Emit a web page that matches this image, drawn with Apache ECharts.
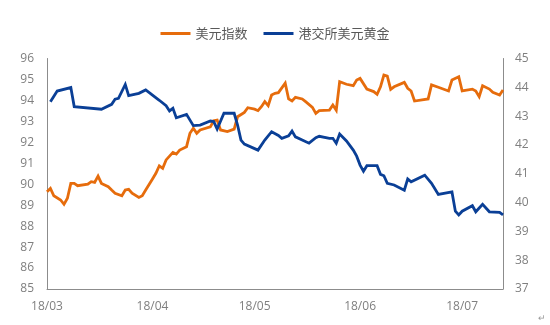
<!DOCTYPE html>
<html>
<head>
<meta charset="utf-8">
<script src="https://cdn.jsdelivr.net/npm/echarts@6/dist/echarts.min.js"></script>
<style>
html,body{margin:0;padding:0;background:#fff;}
#chart{width:550px;height:325px;}
</style>
</head>
<body>
<div id="chart"></div>
<script>
// Series names
const seriesNames = ['美元指数', '港交所美元黄金'];

// 美元指数 (left axis) — dates (2018, MM-DD) and values
const usdDates = [
  '03-01','03-02','03-03','03-05','03-06','03-07','03-08','03-09','03-10','03-13','03-14','03-15','03-16','03-17','03-19','03-20','03-21','03-23','03-24','03-25','03-26','03-28','03-29','03-30',
  '04-01','04-02','04-03','04-04','04-05','04-07','04-08','04-09','04-11','04-12','04-13','04-14','04-15','04-18','04-19','04-20','04-21','04-23','04-25','04-26','04-28','04-29',
  '05-01','05-02','05-03','05-04','05-05','05-06','05-07','05-08','05-10','05-11','05-12','05-13','05-15','05-16','05-18','05-19','05-20','05-23','05-24','05-25','05-26','05-28','05-30','05-31',
  '06-01','06-03','06-05','06-06','06-07','06-08','06-09','06-10','06-11','06-14','06-15','06-16','06-17','06-21','06-22','06-24','06-27','06-28','06-30',
  '07-01','07-04','07-05','07-06','07-07','07-09','07-10','07-12','07-13'
];
const usdValues = [
  89.64, 89.80, 89.45, 89.25, 89.04, 89.33, 90.04, 90.04, 89.93, 90.00, 90.12, 90.09, 90.39, 90.04, 89.88, 89.72, 89.57, 89.45, 89.72, 89.76, 89.57, 89.37, 89.45, 89.72,
  90.25, 90.52, 90.88, 90.76, 91.16, 91.52, 91.44, 91.63, 91.79, 92.43, 92.67, 92.43, 92.59, 92.74, 93.03, 93.06, 92.59, 92.51, 92.63, 93.22, 93.43, 93.65,
  93.58, 93.51, 93.70, 93.94, 93.75, 94.26, 94.34, 94.37, 94.82, 94.07, 93.97, 94.15, 94.07, 93.94, 93.67, 93.38, 93.51, 93.54, 93.78, 93.53, 94.89, 94.77, 94.70, 94.97,
  95.05, 94.54, 94.42, 94.29, 94.65, 95.21, 95.16, 94.53, 94.65, 94.86, 94.58, 94.45, 93.97, 94.07, 94.74, 94.63, 94.45, 94.97, 95.13,
  94.45, 94.54, 94.45, 94.18, 94.70, 94.54, 94.39, 94.26, 94.50
];

// 港交所美元黄金 (right axis) — dates and values
const goldDates = [
  '03-02','03-04','03-08','03-09','03-17','03-20','03-21','03-22','03-24','03-25','03-28','03-30',
  '04-01','04-03','04-05','04-06','04-07','04-08','04-11','04-13','04-15','04-18','04-19','04-20','04-22','04-25','04-26','04-27','04-28',
  '05-02','05-04','05-06','05-08','05-09','05-11','05-12','05-13','05-17','05-19','05-20','05-23','05-24','05-25','05-26','05-28','05-30','05-31',
  '06-01','06-02','06-03','06-06','06-07','06-08','06-09','06-11','06-14','06-15','06-16','06-20','06-22','06-24','06-28','06-29','06-30',
  '07-01','07-04','07-05','07-07','07-09','07-12','07-13'
];
const goldValues = [
  43.50, 43.87, 43.99, 43.33, 43.24, 43.41, 43.59, 43.62, 44.10, 43.71, 43.79, 43.91,
  43.73, 43.55, 43.36, 43.18, 43.27, 42.94, 43.06, 42.67, 42.69, 42.83, 42.81, 42.55, 43.10, 43.10, 42.69, 42.17, 42.03,
  41.82, 42.17, 42.46, 42.33, 42.23, 42.32, 42.48, 42.28, 42.06, 42.25, 42.30, 42.23, 42.23, 42.06, 42.38, 42.14, 41.82, 41.61,
  41.30, 41.09, 41.28, 41.28, 40.98, 40.93, 40.67, 40.61, 40.43, 40.82, 40.72, 40.95, 40.67, 40.28, 40.37, 39.70, 39.57,
  39.70, 39.89, 39.68, 39.94, 39.68, 39.66, 39.57
];

// Axis ranges and x-axis month labels
const leftAxisRange = [85, 96];
const rightAxisRange = [37, 45];
const startDate = '2018-03-01';
const endDate = '2018-07-13';
const monthLabels = {'03-01': '18/03', '04-01': '18/04', '05-01': '18/05', '06-01': '18/06', '07-01': '18/07'};

// Build calendar-day categories
function pad(n){ return (n < 10 ? '0' : '') + n; }
const categories = [];
{
  const d = new Date(startDate + 'T00:00:00Z');
  const e = new Date(endDate + 'T00:00:00Z');
  while (d <= e) {
    categories.push(pad(d.getUTCMonth() + 1) + '-' + pad(d.getUTCDate()));
    d.setUTCDate(d.getUTCDate() + 1);
  }
}
function toSeries(dates, values) {
  const arr = categories.map(() => null);
  dates.forEach((dt, i) => {
    const idx = categories.indexOf(dt);
    if (idx >= 0) arr[idx] = values[i];
  });
  return arr;
}

const axisColor = '#8c8c8c';
const labelColor = '#7f7f7f';
const fontFamily = '"Open Sans", "Noto Sans CJK SC", sans-serif';

const chart = echarts.init(document.getElementById('chart'), null, {renderer: 'canvas'});
chart.setOption({
  animation: false,
  backgroundColor: '#ffffff',
  textStyle: {fontFamily: fontFamily},
  legend: {
    top: 22,
    left: 'center',
    itemWidth: 30,
    itemHeight: 3,
    itemGap: 16,
    icon: 'rect',
    textStyle: {fontSize: 13, color: '#595959', fontFamily: '"Noto Sans CJK SC", sans-serif'},
    data: seriesNames
  },
  grid: {left: 47, right: 47, top: 58.5, bottom: 36, containLabel: false},
  xAxis: {
    type: 'category',
    boundaryGap: false,
    data: categories,
    axisLine: {show: true, lineStyle: {color: axisColor, width: 1}},
    axisTick: {show: false},
    splitLine: {show: false},
    axisLabel: {
      interval: 0,
      formatter: (val) => monthLabels[val] || '',
      color: labelColor,
      fontSize: 12,
      margin: 12,
      hideOverlap: false
    }
  },
  yAxis: [
    {
      type: 'value',
      min: leftAxisRange[0], max: leftAxisRange[1], interval: 1,
      position: 'left',
      axisLine: {show: true, lineStyle: {color: axisColor, width: 1}},
      axisTick: {show: false},
      splitLine: {show: false},
      axisLabel: {color: labelColor, fontSize: 12, margin: 13}
    },
    {
      type: 'value',
      min: rightAxisRange[0], max: rightAxisRange[1], interval: 1,
      position: 'right',
      axisLine: {show: true, lineStyle: {color: axisColor, width: 1}},
      axisTick: {show: false},
      splitLine: {show: false},
      axisLabel: {color: labelColor, fontSize: 12, margin: 12}
    }
  ],
  series: [
    {
      name: seriesNames[0],
      type: 'line',
      yAxisIndex: 0,
      data: toSeries(usdDates, usdValues),
      connectNulls: true,
      showSymbol: false,
      symbol: 'none',
      itemStyle: {color: '#E66C0C'},
      lineStyle: {color: '#E66C0C', width: 2.8, join: 'miter'}
    },
    {
      name: seriesNames[1],
      type: 'line',
      yAxisIndex: 1,
      data: toSeries(goldDates, goldValues),
      connectNulls: true,
      showSymbol: false,
      symbol: 'none',
      itemStyle: {color: '#0A3F96'},
      lineStyle: {color: '#0A3F96', width: 2.8, join: 'miter'}
    }
  ],
  graphic: [
    {type: 'text', right: 4, bottom: 2, style: {text: '↵', fill: '#9a9a9a', fontSize: 9}}
  ]
});
</script>
</body>
</html>
